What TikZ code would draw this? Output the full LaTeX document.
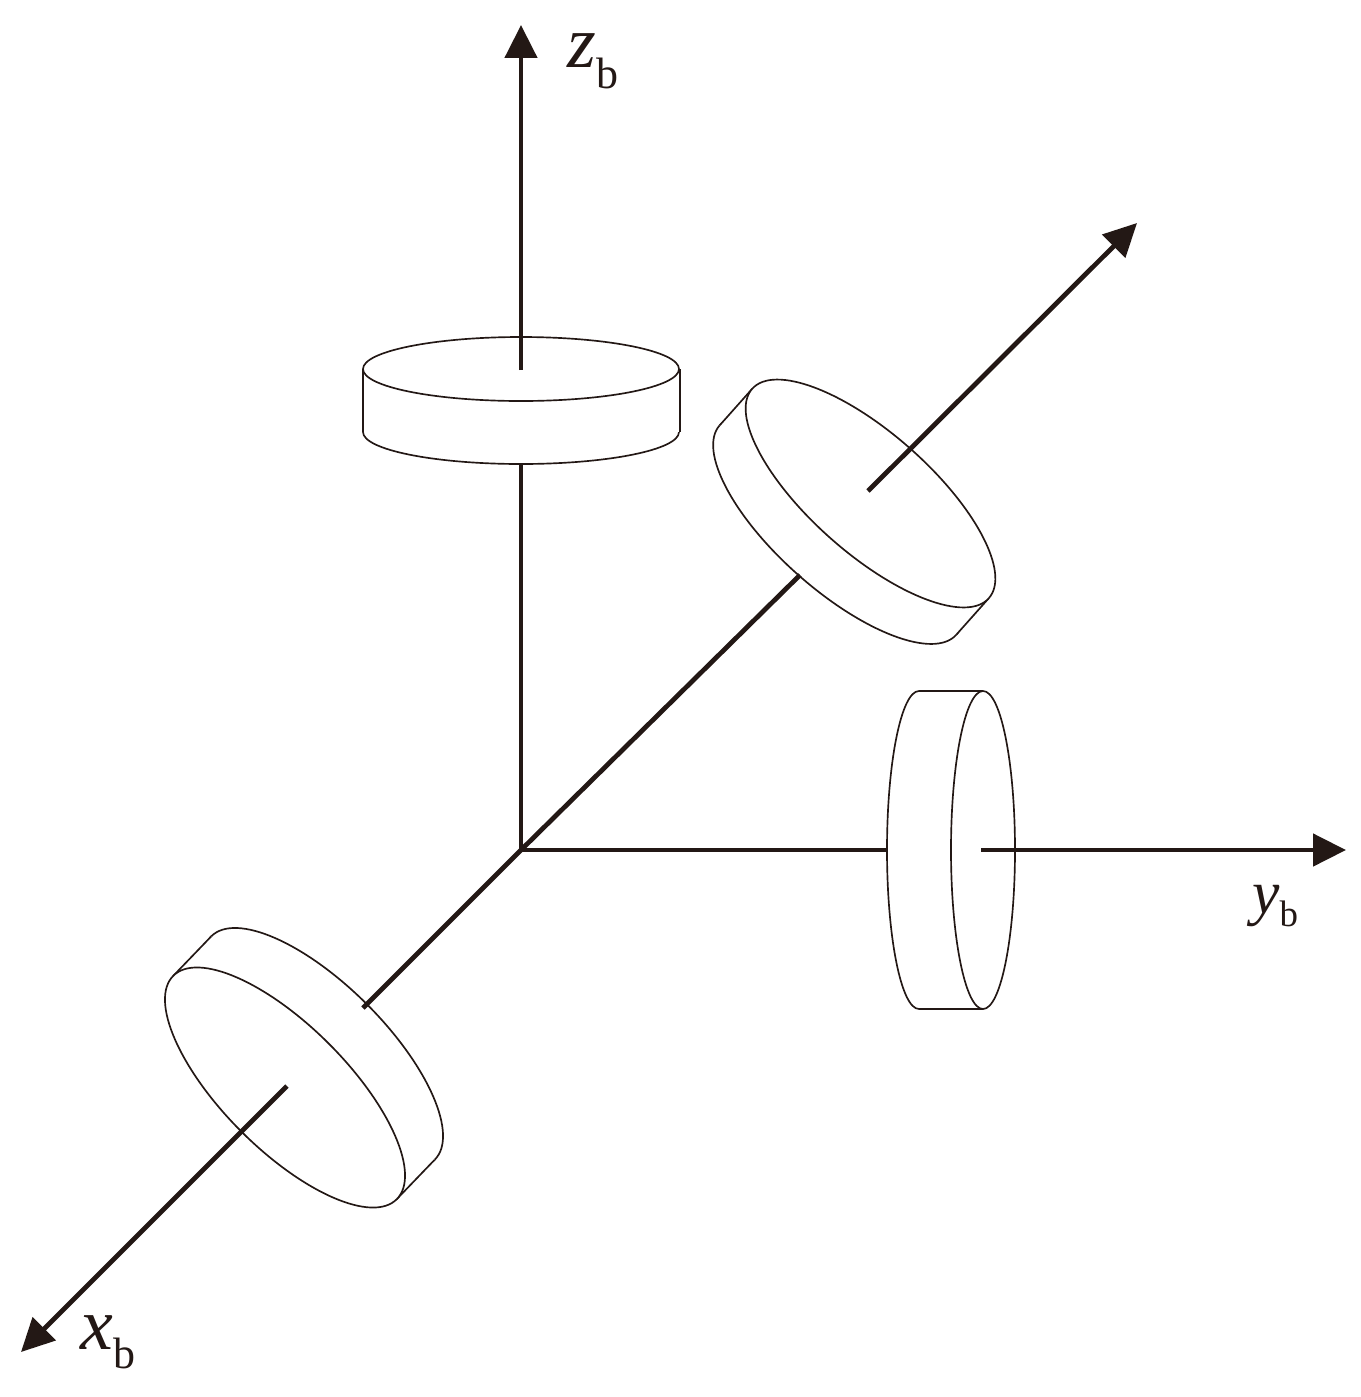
\documentclass[tikz,border=0pt]{standalone}
\usepackage{fontspec}
\setmainfont{Liberation Serif}
\usetikzlibrary{arrows.meta}
\definecolor{inkblack}{HTML}{231815}
\newcommand{\axislabel}[3]{\textit{#1}\lower#2\hbox{\fontsize{#3}{#3}\selectfont b}}
\tikzset{
    axisline/.style={draw=inkblack, line width=2.7pt},
    axisarrow/.style={axisline, -{Triangle[length=0.66cm, width=0.64cm]}},
    diskline/.style={draw=inkblack, line width=0.95pt, fill=white},
    axislabelnode/.style={text=inkblack, font=\fontsize{42}{42}\selectfont, inner sep=0pt, anchor=base west}
}
\begin{document}
\begin{tikzpicture}[x=0.02cm, y=-0.02cm]
        \useasboundingbox (0, 0) rectangle (1361, 1397);

        \coordinate (origin) at (521, 850);
        \coordinate (ztip) at (521, 25);
        \coordinate (ytip) at (1346, 850);
        \coordinate (xtip) at (21, 1352);
        \coordinate (wtip) at (1137, 223);
        \coordinate (zlow) at (521, 464);
        \coordinate (zhigh) at (521, 370);
        \coordinate (ylow) at (887, 850);
        \coordinate (yhigh) at (981, 850);
        \coordinate (xlow) at (363, 1008);
        \coordinate (xhigh) at (287, 1086);
        \coordinate (wlow) at (800, 575);
        \coordinate (whigh) at (868, 491);

        % top disk
        \draw[diskline] (521, 432) ellipse [x radius=158, y radius=32];
        \fill[white] (363, 369) rectangle (680, 432);
        \draw[diskline] (363, 369) -- (363, 432);
        \draw[diskline] (680, 369) -- (680, 432);
        \draw[diskline] (521, 369) ellipse [x radius=158, y radius=32];

        % right disk
        \draw[diskline] (919, 850) ellipse [x radius=32, y radius=159];
        \fill[white] (919, 691) rectangle (983, 1009);
        \draw[diskline] (919, 691) -- (983, 691);
        \draw[diskline] (919, 1009) -- (983, 1009);
        \draw[diskline] (983, 850) ellipse [x radius=32, y radius=159];

        % upper disk
        \draw[diskline] (838, 530) ellipse [x radius=158, y radius=60, rotate=-41.5];
        \fill[white] (752.2, 388.8) -- (719.7, 425.3) -- (956.3, 634.7) -- (988.8, 598.2) -- cycle;
        \draw[diskline] (752.2, 388.8) -- (719.7, 425.3);
        \draw[diskline] (988.8, 598.2) -- (956.3, 634.7);
        \draw[diskline] (870.5, 493.5) ellipse [x radius=158, y radius=60, rotate=-41.5];

        % lower disk
        \draw[diskline] (323, 1048) ellipse [x radius=158, y radius=62, rotate=-45];
        \fill[white] (173.3, 975.8) -- (211.3, 936.3) -- (434.7, 1159.7) -- (396.7, 1199.2) -- cycle;
        \draw[diskline] (173.3, 975.8) -- (211.3, 936.3);
        \draw[diskline] (396.7, 1199.2) -- (434.7, 1159.7);
        \draw[diskline] (285, 1087.5) ellipse [x radius=158, y radius=62, rotate=-45];

        % axes
        \draw[axisline] (origin) -- (zlow);
        \draw[axisarrow] (zhigh) -- (ztip);
        \draw[axisline] (origin) -- (ylow);
        \draw[axisarrow] (yhigh) -- (ytip);
        \draw[axisline] (origin) -- (xlow);
        \draw[axisarrow] (xhigh) -- (xtip);
        \draw[axisline] (origin) -- (wlow);
        \draw[axisarrow] (whigh) -- (wtip);

        \node[axislabelnode] (zlabel) at (567, 67) {\axislabel{z}{0.42cm}{25}};
        \node[axislabelnode, font=\fontsize{35}{35}\selectfont] (ylabel) at (1252, 913) {\axislabel{y}{0.26cm}{21}};
        \node[axislabelnode] (xlabel) at (80, 1349) {\axislabel{x}{0.38cm}{25}};
    \end{tikzpicture}
\end{document}
